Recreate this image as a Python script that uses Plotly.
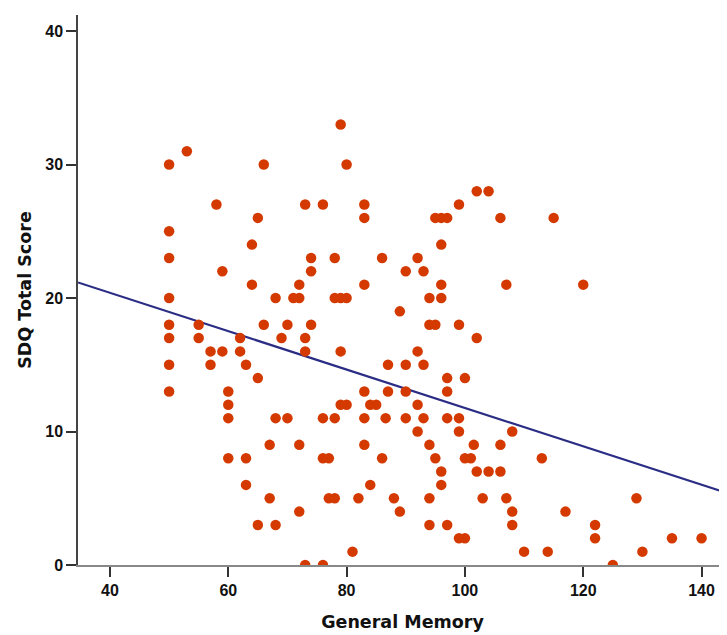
import numpy as np
import plotly.graph_objects as go

# General Memory (x) and SDQ Total Score (y)
memory = [50, 53, 50, 50, 50, 50, 50, 50, 50,
          55, 55, 57, 57, 58, 59, 59, 60, 60, 60, 60,
          62, 62, 63, 63, 63, 64, 64, 65, 65, 65, 66, 66,
          67, 67, 68, 68, 68, 69, 70, 70, 71,
          72, 72, 72, 72, 73, 73, 73, 73, 74, 74, 74,
          76, 76, 76, 76, 77, 77, 78, 78, 78, 78,
          79, 79, 79, 79, 80, 80, 80, 81, 82,
          83, 83, 83, 83, 83, 83, 84, 84, 85, 86, 86, 86.6,
          87, 87, 88, 89, 89, 90, 90, 90, 90,
          92, 92, 92, 92, 93, 93, 93, 94, 94, 94, 94, 94,
          95, 95, 95, 96, 96, 96, 96, 96, 96,
          97, 97, 97, 97, 97, 99, 99, 99, 99, 99,
          100, 100, 100, 101, 101.5, 102, 102, 102, 103, 104, 104,
          106, 106, 106, 107, 107, 108, 108, 108, 110, 113, 114, 115,
          117, 120, 122, 122, 125, 129, 130, 135, 140]
sdq = [30, 31, 25, 23, 20, 18, 17, 15, 13,
       18, 17, 16, 15, 27, 22, 16, 13, 12, 11, 8,
       17, 16, 15, 8, 6, 24, 21, 26, 14, 3, 30, 18,
       9, 5, 20, 11, 3, 17, 18, 11, 20,
       21, 20, 9, 4, 27, 17, 16, 0, 23, 22, 18,
       27, 11, 8, 0, 8, 5, 23, 20, 11, 5,
       33, 20, 16, 12, 30, 20, 12, 1, 5,
       27, 26, 21, 13, 11, 9, 12, 6, 12, 23, 8, 11,
       15, 13, 5, 19, 4, 22, 15, 13, 11,
       23, 16, 12, 10, 22, 15, 11, 20, 18, 9, 5, 3,
       26, 18, 8, 26, 24, 21, 20, 7, 6,
       26, 14, 13, 11, 3, 27, 18, 11, 10, 2,
       14, 8, 2, 8, 9, 28, 17, 7, 5, 28, 7,
       26, 9, 7, 21, 5, 10, 4, 3, 1, 8, 1, 26,
       4, 21, 3, 2, 0, 5, 1, 2, 2]

x_ticks = [40, 60, 80, 100, 120, 140]
y_ticks = [0, 10, 20, 30, 40]
x_range = [34.6, 144.3]
y_range = [0, 41.2]

slope, intercept = np.polyfit(memory, sdq, 1)
fit_x = np.array(x_range)
fit_y = intercept + slope * fit_x

fig = go.Figure()
fig.add_trace(go.Scatter(
    x=fit_x, y=fit_y, mode="lines",
    line=dict(color="#2b2d85", width=2.2),
    hoverinfo="skip", showlegend=False,
))
fig.add_trace(go.Scatter(
    x=memory, y=sdq, mode="markers",
    marker=dict(size=10.5, color="#d43a00", line=dict(width=0)),
    showlegend=False,
))

tick_font = dict(family="Liberation Sans", size=16, color="#111", weight="bold")
title_font = dict(family="DejaVu Sans", size=17.5, color="#111", weight="bold")

# The page body has an 8px default margin, so the figure is sized to fill
# the 727x635 window from that offset.
fig.update_layout(
    width=719, height=627,
    margin=dict(l=70, r=0, t=7, b=70),
    paper_bgcolor="white", plot_bgcolor="white",
    xaxis=dict(
        range=x_range, tickvals=x_ticks, ticks="outside", ticklen=10,
        tickwidth=1.5, tickcolor="#333", showline=True, linecolor="#888",
        linewidth=1.5, showgrid=False, zeroline=False, tickfont=tick_font,
        automargin=False,
        title=dict(text="General Memory", font=title_font, standoff=18),
    ),
    yaxis=dict(
        range=y_range, tickvals=y_ticks, ticks="outside", ticklen=10,
        tickwidth=1.5, tickcolor="#333", showline=True, linecolor="#444",
        linewidth=1.5, showgrid=False, zeroline=False, tickfont=tick_font,
        automargin=False,
        title=dict(text="SDQ Total Score", font=title_font, standoff=9),
    ),
)

fig.write_html("out.html")
